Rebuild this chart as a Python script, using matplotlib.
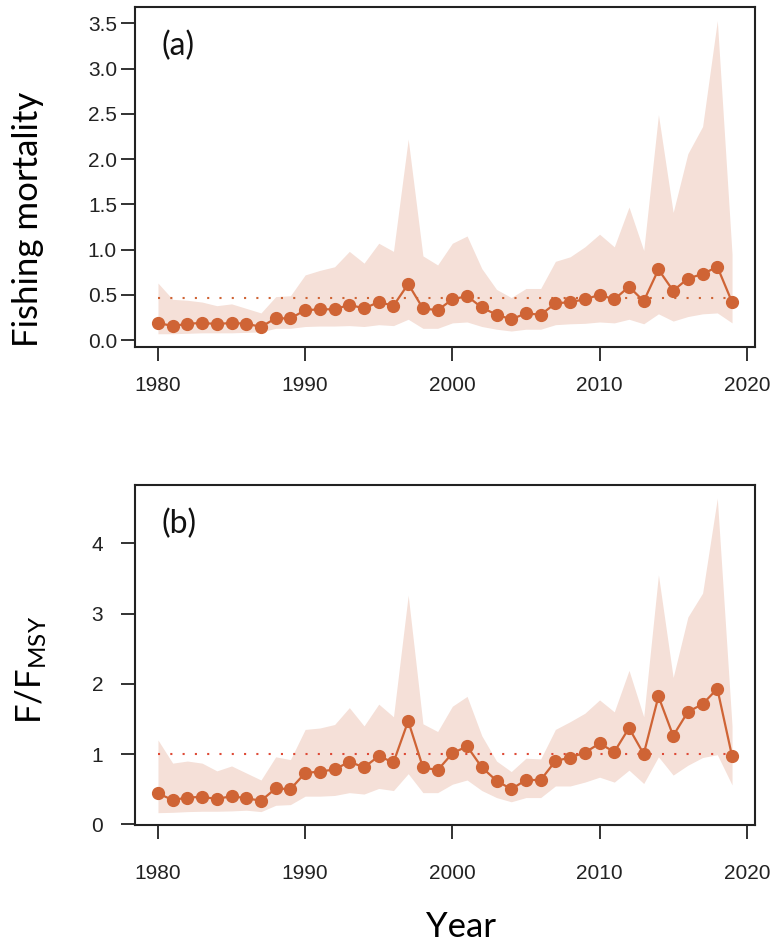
import numpy as np
import matplotlib
matplotlib.use("Agg")
import matplotlib.pyplot as plt

years = list(range(1980, 2020))

# fishing mortality: estimate and lower / upper bounds
f_est = [0.19, 0.155, 0.18, 0.19, 0.177, 0.19, 0.18, 0.147, 0.24, 0.24,
         0.33, 0.34, 0.34, 0.39, 0.35, 0.42, 0.38, 0.62, 0.35, 0.33,
         0.45, 0.486, 0.36, 0.28, 0.23, 0.295, 0.28, 0.405, 0.42, 0.45,
         0.50, 0.45, 0.59, 0.43, 0.78, 0.545, 0.68, 0.73, 0.81, 0.42]
f_lo = [0.07, 0.07, 0.075, 0.08, 0.08, 0.08, 0.085, 0.09, 0.13, 0.13,
        0.15, 0.155, 0.155, 0.16, 0.15, 0.17, 0.16, 0.23, 0.13, 0.13,
        0.19, 0.20, 0.15, 0.12, 0.10, 0.12, 0.12, 0.17, 0.18, 0.185,
        0.20, 0.19, 0.23, 0.18, 0.29, 0.21, 0.26, 0.29, 0.30, 0.19]
f_hi = [0.63, 0.45, 0.44, 0.42, 0.38, 0.40, 0.35, 0.30, 0.48, 0.49,
        0.72, 0.77, 0.81, 0.98, 0.85, 1.07, 0.98, 2.22, 0.93, 0.83,
        1.07, 1.15, 0.79, 0.56, 0.47, 0.57, 0.57, 0.87, 0.92, 1.03,
        1.17, 1.03, 1.47, 0.99, 2.49, 1.41, 2.06, 2.36, 3.53, 0.95]
f_msy = 0.46

# F/Fmsy: estimate and lower / upper bounds
r_est = [0.44, 0.345, 0.38, 0.39, 0.36, 0.40, 0.37, 0.335, 0.51, 0.50,
         0.73, 0.75, 0.78, 0.89, 0.81, 0.97, 0.88, 1.47, 0.81, 0.77,
         1.01, 1.11, 0.81, 0.62, 0.50, 0.63, 0.63, 0.90, 0.95, 1.02,
         1.15, 1.03, 1.37, 1.00, 1.82, 1.26, 1.60, 1.71, 1.93, 0.97]
r_lo = [0.165, 0.17, 0.18, 0.185, 0.185, 0.19, 0.20, 0.18, 0.27, 0.28,
        0.40, 0.40, 0.41, 0.45, 0.43, 0.51, 0.48, 0.72, 0.45, 0.45,
        0.57, 0.63, 0.48, 0.38, 0.32, 0.38, 0.38, 0.545, 0.545, 0.60,
        0.67, 0.60, 0.77, 0.58, 0.96, 0.70, 0.84, 0.95, 0.99, 0.56]
r_hi = [1.20, 0.87, 0.90, 0.87, 0.76, 0.83, 0.73, 0.63, 0.96, 0.92,
        1.35, 1.37, 1.42, 1.66, 1.40, 1.71, 1.53, 3.26, 1.43, 1.32,
        1.68, 1.82, 1.26, 0.90, 0.75, 0.94, 0.93, 1.35, 1.46, 1.58,
        1.77, 1.60, 2.19, 1.53, 3.55, 2.09, 2.95, 3.29, 4.64, 1.40]
r_ref = 1.0

a_ticks = [0.0, 0.5, 1.0, 1.5, 2.0, 2.5, 3.0, 3.5]
b_ticks = [0, 1, 2, 3, 4]
x_ticks = [1980, 1990, 2000, 2010, 2020]

col = "#CF6435"
shade = "#F5E0D8"
label_font = "Lato"
tick_font = "Liberation Sans"

plt.rcParams["mathtext.fontset"] = "custom"
plt.rcParams["mathtext.rm"] = label_font
plt.rcParams["mathtext.it"] = label_font

fig = plt.figure(figsize=(7.75, 9.49), dpi=100)
ax1 = fig.add_axes([0.1742, 0.6343, 0.8, 0.3583])
ax2 = fig.add_axes([0.1742, 0.1307, 0.8, 0.3583])


def panel(ax, est, lo, hi, ref, refcol, ylim, yticks, yfmt, tag, ypad, xpad):
    ax.fill_between(years, lo, hi, color=shade, lw=0, zorder=1)
    ax.plot([years[0], years[-1]], [ref, ref], color=refcol, lw=1.5,
            linestyle=(0, (1, 4.9)), zorder=2)
    ax.plot(years, est, color=col, lw=1.6, marker="o", ms=8.5, zorder=3)
    ax.set_xlim(1978.44, 2020.56)
    ax.set_ylim(*ylim)
    ax.set_xticks(x_ticks)
    ax.set_yticks(yticks)
    ax.set_yticklabels([yfmt.format(t) for t in yticks])
    for s in ax.spines.values():
        s.set_linewidth(1.5)
        s.set_color("#222222")
    ax.tick_params(direction="out", length=10, width=1.3, color="#222222",
                   labelsize=15, labelcolor="#222222")
    ax.tick_params(axis="y", pad=ypad)
    ax.tick_params(axis="x", pad=xpad)
    for lab in ax.get_xticklabels() + ax.get_yticklabels():
        lab.set_fontfamily(tick_font)
    ax.text(0.042, 0.885, tag, transform=ax.transAxes, fontsize=23,
            family=label_font, va="center", ha="left", color="#111111")


panel(ax1, f_est, f_lo, f_hi, f_msy, col, (-0.077, 3.68), a_ticks,
      "{:.1f}", "(a)", 3, 11)
panel(ax2, r_est, r_lo, r_hi, r_ref, "#DE4A36", (-0.01, 4.83), b_ticks,
      "{:d}", "(b)", 13, 18)

fig.text(0.036, 1 - 219 / 949, "Fishing mortality", rotation=90,
         fontsize=25, family=label_font, ha="center", va="center")
fig.text(0.040, 1 - 670 / 949, r"F/F$_{\mathrm{MSY}}$", rotation=90,
         fontsize=25, family=label_font, ha="center", va="center")
fig.text(461 / 775, 1 - 927 / 949, "Year", fontsize=25, family=label_font,
         ha="center", va="center")

fig.savefig("out.png", dpi=100)
